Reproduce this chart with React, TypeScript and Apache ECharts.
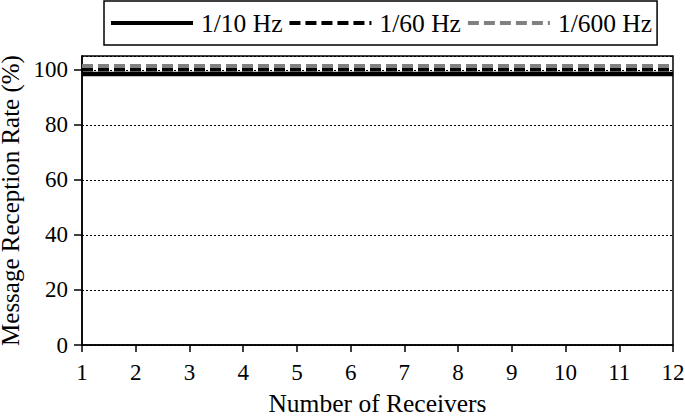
import React, { useEffect, useRef } from "react";
import * as echarts from "echarts";

const receivers = [1, 2, 3, 4, 5, 6, 7, 8, 9, 10, 11, 12];
const rate10Hz = [98.5, 98.5, 98.5, 98.5, 98.5, 98.5, 98.5, 98.5, 98.5, 98.5, 98.5, 98.5];
const rate60Hz = [100.1, 100.1, 100.1, 100.1, 100.1, 100.1, 100.1, 100.1, 100.1, 100.1, 100.1, 100.1];
const rate600Hz = [101.4, 101.4, 101.4, 101.4, 101.4, 101.4, 101.4, 101.4, 101.4, 101.4, 101.4, 101.4];
const seriesNames = ["1/10 Hz", "1/60 Hz", "1/600 Hz"];
const yTicks = [0, 20, 40, 60, 80, 100];

const FONT = "Liberation Serif";

export default function App() {
  const ref = useRef<HTMLDivElement>(null);
  useEffect(() => {
    if (!ref.current) return;
    const chart = echarts.init(ref.current, null, { renderer: "svg" });
    const pairs = (vals: number[]) => receivers.map((r, i) => [r, vals[i]]);
    chart.setOption({
      animation: false,
      textStyle: { fontFamily: FONT, color: "#000" },
      legend: {
        left: 104,
        top: 1,
        padding: [9, 5, 9, 5],
        borderColor: "#000",
        borderWidth: 1.5,
        itemWidth: 82,
        itemHeight: 26,
        itemGap: 5,
        itemStyle: { color: "rgba(0,0,0,0)", borderWidth: 0, opacity: 0 },
        lineStyle: { width: 4 },
        textStyle: { fontFamily: FONT, fontSize: 25.5, color: "#000", padding: [0, 0, 0, 3] },
        data: seriesNames,
      },
      grid: {
        left: 82,
        right: 12,
        top: 56,
        bottom: 71,
        containLabel: false,
        outerBoundsMode: "none",
        show: true,
        borderColor: "#000",
        borderWidth: 1.5,
        backgroundColor: "transparent",
      },
      xAxis: {
        type: "value",
        min: 1,
        max: 12,
        interval: 1,
        name: "Number of Receivers",
        nameLocation: "middle",
        nameGap: 46,
        nameTextStyle: { fontFamily: FONT, fontSize: 25.5, lineHeight: 24, color: "#000" },
        axisLine: { lineStyle: { color: "#000", width: 1.5 } },
        axisTick: { show: true, length: 7, lineStyle: { color: "#000", width: 1.5 } },
        axisLabel: { fontFamily: FONT, fontSize: 23, color: "#000", margin: 16 },
        splitLine: { show: false },
      },
      yAxis: {
        type: "value",
        min: 0,
        max: 105,
        interval: 20,
        name: "Message Reception Rate (%)",
        nameLocation: "middle",
        nameGap: 48,
        nameTextStyle: { fontFamily: FONT, fontSize: 25, lineHeight: 24, color: "#000" },
        axisLine: { show: true, lineStyle: { color: "#000", width: 1.5 } },
        axisTick: { show: true, length: 8, lineStyle: { color: "#000", width: 1.5 } },
        axisLabel: {
          fontFamily: FONT,
          fontSize: 23,
          color: "#000",
          margin: 14,
          showMaxLabel: false,
          formatter: (v: number) => (yTicks.includes(v) ? String(v) : ""),
        },
        splitLine: { show: true, lineStyle: { color: "#000", width: 1, type: [2, 2] } },
      },
      series: [
        {
          name: seriesNames[0],
          type: "line",
          data: pairs(rate10Hz),
          symbol: "none",
          lineStyle: { color: "#000", width: 4.5, type: "solid" },
          itemStyle: { color: "#000" },
          z: 2,
        },
        {
          name: seriesNames[1],
          type: "line",
          data: pairs(rate60Hz),
          symbol: "none",
          lineStyle: { color: "#000", width: 4, type: [11, 5] },
          itemStyle: { color: "#000" },
          z: 3,
        },
        {
          name: seriesNames[2],
          type: "line",
          data: pairs(rate600Hz),
          symbol: "none",
          lineStyle: { color: "#808080", width: 4, type: [11, 5] },
          itemStyle: { color: "#808080" },
          z: 4,
        },
      ],
    });
    return () => chart.dispose();
  }, []);
  return (
    <div
      ref={ref}
      style={{ position: "fixed", left: 0, top: 0, width: 685, height: 416, background: "#fff" }}
    />
  );
}
